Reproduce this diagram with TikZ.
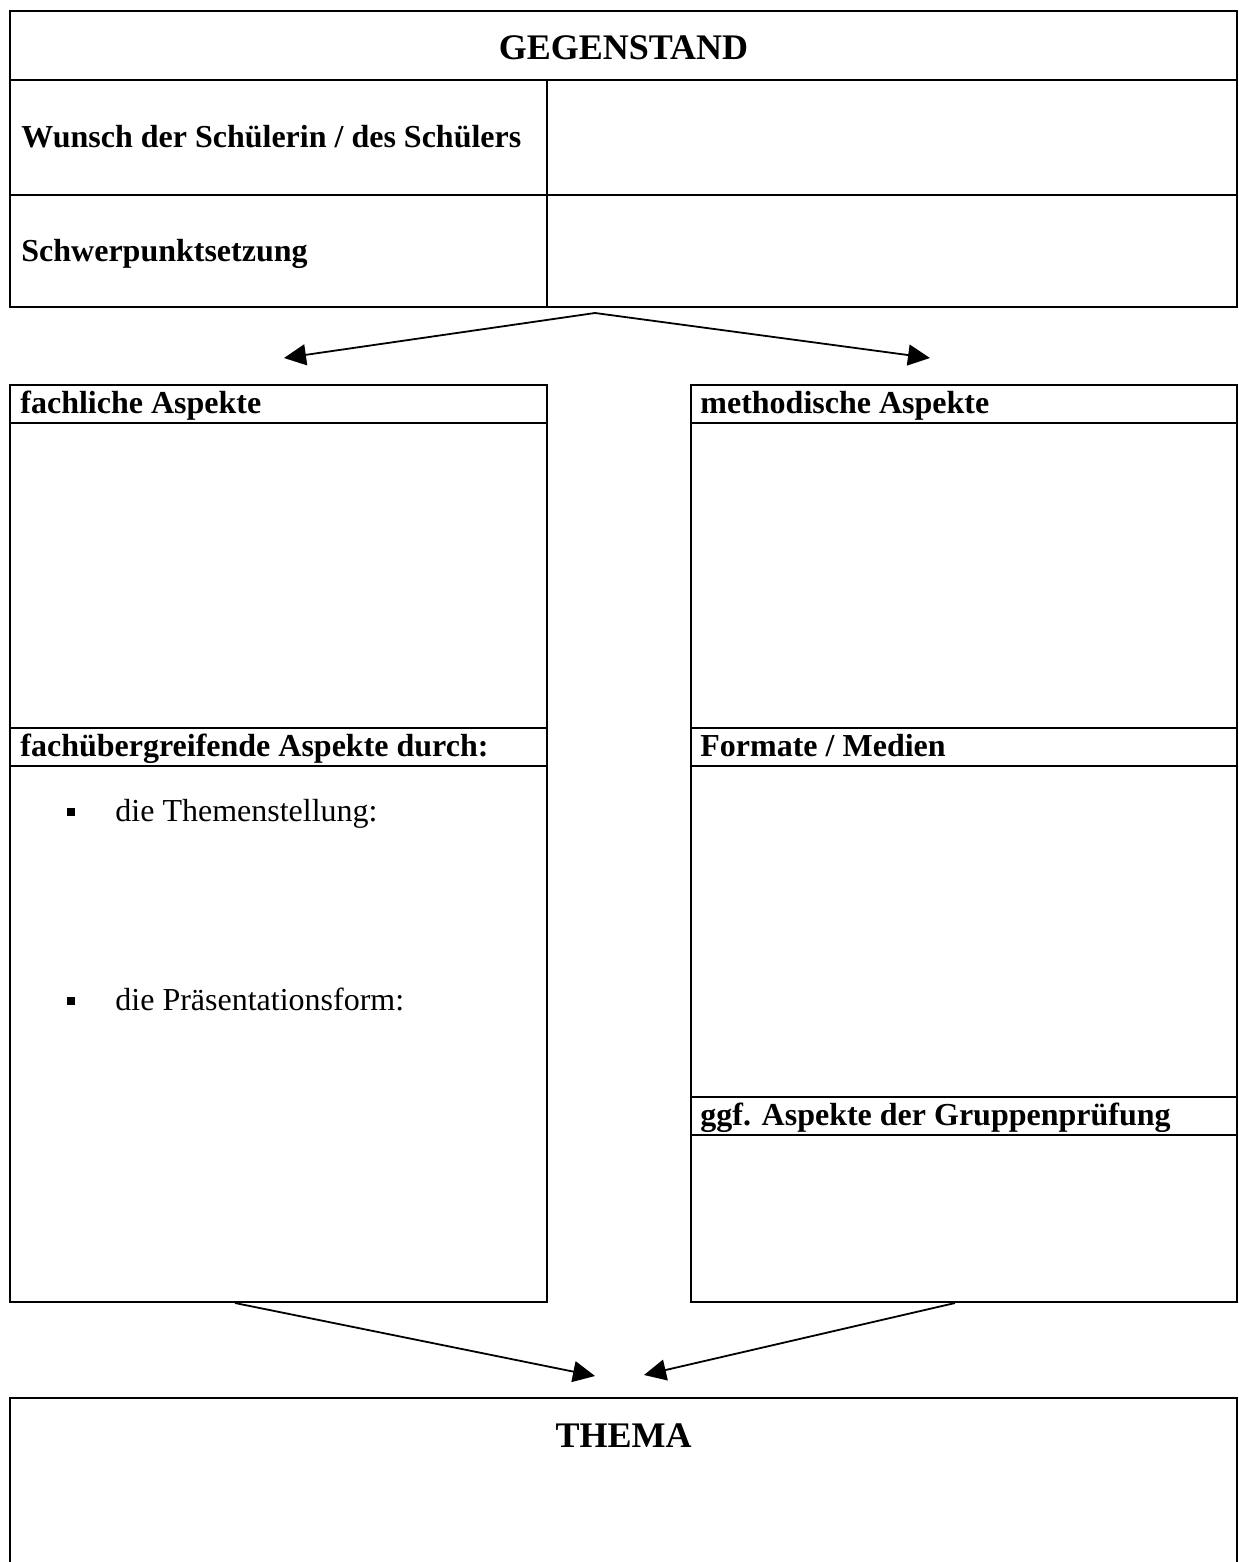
\documentclass[tikz,border=0pt]{standalone}
\usepackage{fontspec}
\setmainfont{Liberation Serif}
\usetikzlibrary{arrows.meta}
\begin{document}
\begin{tikzpicture}[x=0.5pt,y=-0.5pt,
  frame/.style={draw,line width=1.3pt,rectangle,anchor=north west,inner sep=0pt,outer sep=0pt},
  rule/.style={line width=1.3pt},
  head/.style={font=\fontsize{16}{19}\bfseries\selectfont,anchor=base west,inner sep=0pt},
  big/.style={font=\fontsize{18}{22}\bfseries\selectfont,anchor=base,inner sep=0pt},
  item/.style={font=\fontsize{16}{19}\selectfont,anchor=base west,inner sep=0pt},
  bul/.style={fill,rectangle,minimum size=4pt,inner sep=0pt},
  conn/.style={line width=0.9pt,-{Triangle[length=11pt,width=10.5pt]}}]
\useasboundingbox (0,0) rectangle (1238,1562);

% top table
\node[frame,minimum width=613.5pt,minimum height=148pt] (top) at (10,11) {};
\draw[rule] (10,80) -- (1237,80);
\draw[rule] (10,195) -- (1237,195);
\draw[rule] (547,80) -- (547,307);
\node[big] (gegen) at (623.5,60) {GEGENSTAND};
\node[head] (wunsch) at (21,148) {Wunsch der Schülerin / des Schülers};
\node[head] (schwer) at (21,262) {Schwerpunktsetzung};

% left column
\node[frame,minimum width=268.5pt,minimum height=458.5pt] (left) at (10,385) {};
\draw[rule] (10,423) -- (547,423);
\draw[rule] (10,728) -- (547,728);
\draw[rule] (10,766) -- (547,766);
\node[head] (fach) at (20,413) {fachliche Aspekte};
\node[head] (ueber) at (20,756) {fachübergreifende Aspekte durch:};
\node[bul] (b1) at (71,812) {};
\node[item] (t1) at (115,821) {die Themenstellung:};
\node[bul] (b2) at (71,1001) {};
\node[item] (t2) at (115,1010) {die Präsentationsform:};

% right column
\node[frame,minimum width=273pt,minimum height=458.5pt] (right) at (691,385) {};
\draw[rule] (691,423) -- (1237,423);
\draw[rule] (691,728) -- (1237,728);
\draw[rule] (691,766) -- (1237,766);
\draw[rule] (691,1097) -- (1237,1097);
\draw[rule] (691,1135) -- (1237,1135);
\node[head] (meth) at (700,413) {methodische Aspekte};
\node[head] (form) at (700,756) {Formate / Medien};
\node[head] (grp) at (700,1125) {ggf. Aspekte der Gruppenprüfung};

% THEMA box
\node[frame,minimum width=613.5pt,minimum height=120pt] (thema) at (10,1398) {};
\node[big] (themat) at (623.5,1447) {THEMA};

% connectors
\coordinate (apex) at (595,313);
\coordinate (tipL) at (284,358);
\coordinate (tipR) at (930,358);
\coordinate (srcL) at (235,1303);
\coordinate (srcR) at (955,1303);
\coordinate (tipBL) at (595,1376);
\coordinate (tipBR) at (644,1375);
\draw[conn] (apex) -- (tipL);
\draw[conn] (apex) -- (tipR);
\draw[conn] (srcL) -- (tipBL);
\draw[conn] (srcR) -- (tipBR);
\end{tikzpicture}
\end{document}
